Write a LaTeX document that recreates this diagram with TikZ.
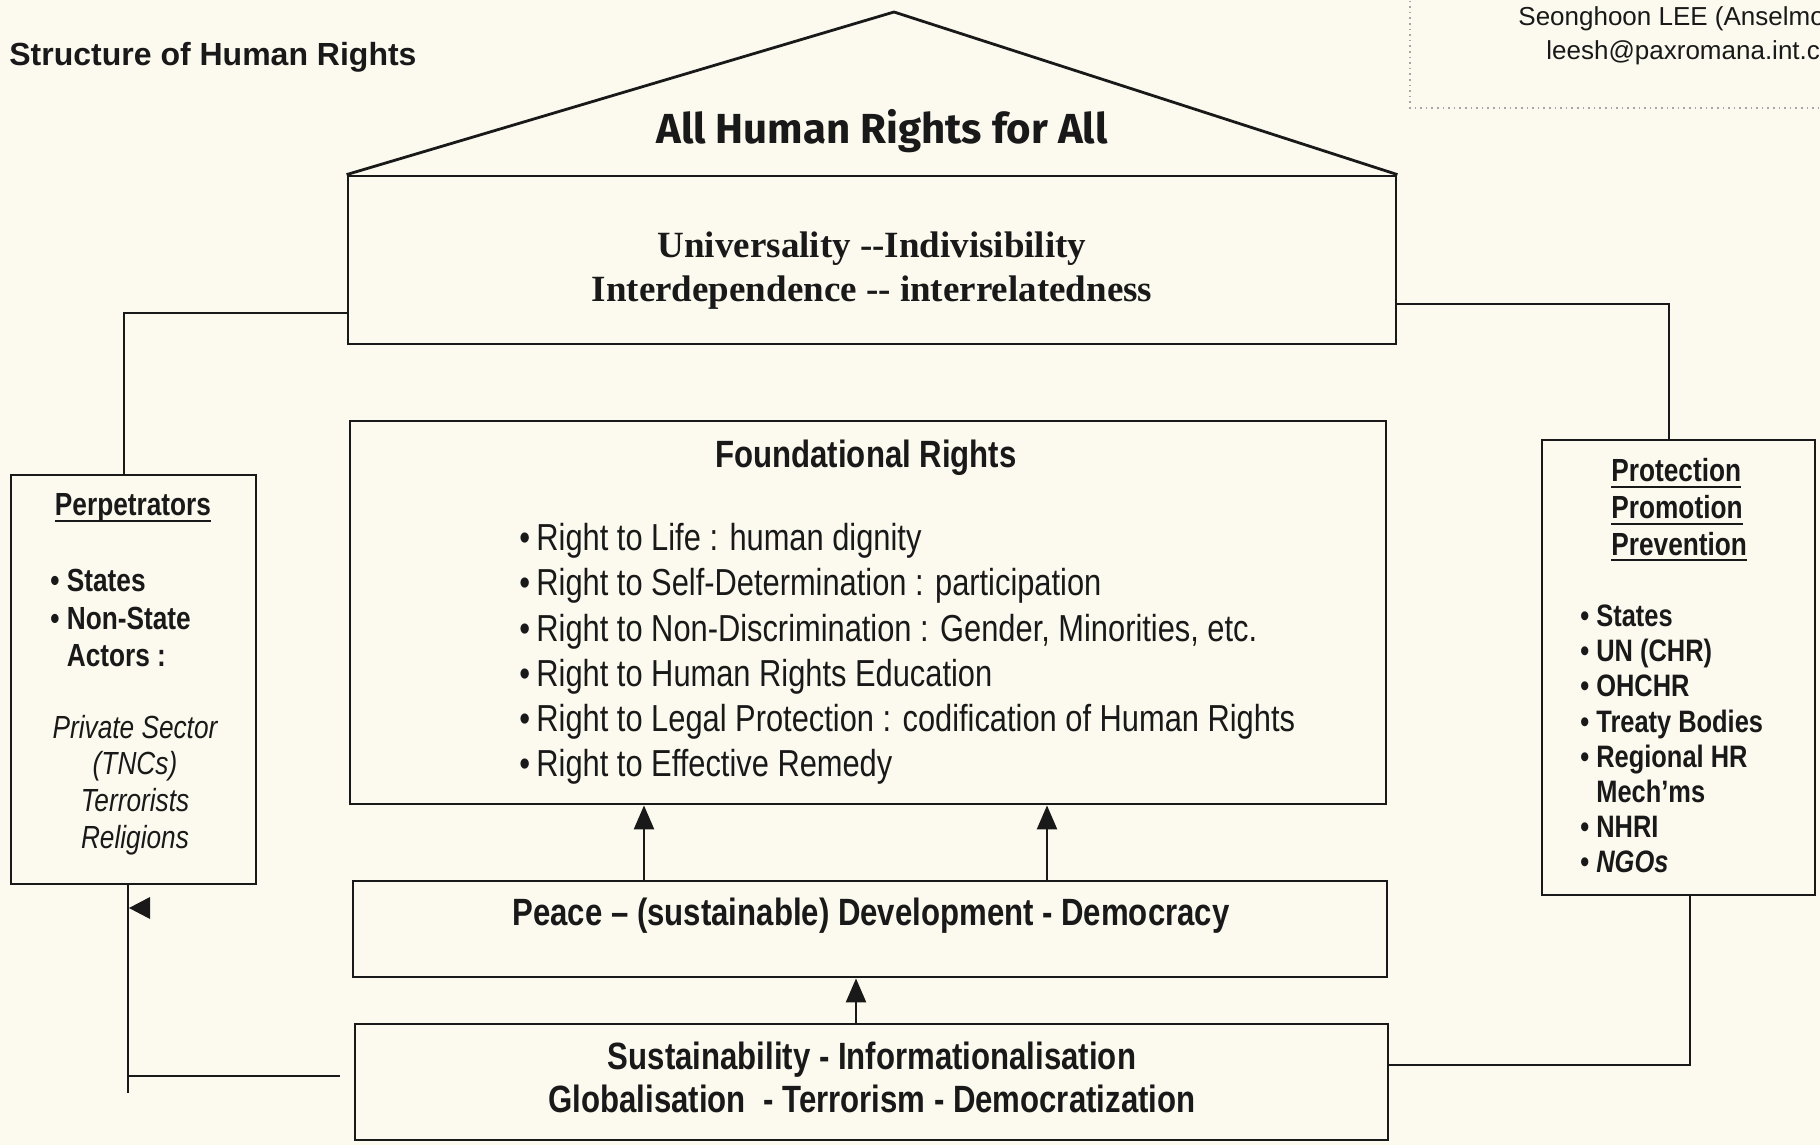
\documentclass[tikz,border=0pt]{standalone}
\usepackage{fontspec}
\setmainfont{Liberation Sans}
\newfontfamily\narrowsans[FakeStretch=0.82]{Liberation Sans}
\newfontfamily\romanbold{Liberation Serif}
\newfontfamily\roundsans{Fira Sans}
\usetikzlibrary{arrows.meta}

\definecolor{paper}{RGB}{252,250,239}
\definecolor{ink}{RGB}{25,25,25}

% underline drawn just under the baseline
\newcommand\ulinetext[1]{\setbox0\hbox{#1}\rlap{\rule[-3pt]{\wd0}{1pt}}\box0}

\begin{document}
\begin{tikzpicture}[x=0.5pt,y=-0.5pt,
  box/.style={draw=ink, line width=1.4pt, rectangle, inner sep=0pt},
  link/.style={draw=ink, line width=1.25pt},
  uparrow/.style={draw=ink, line width=1.25pt, -{Triangle[length=12pt,width=10pt]}},
  txt/.style={inner sep=0pt, text=ink},
  bodyfont/.style={font=\narrowsans\fontsize{18.8}{22.6}\selectfont},
  boldbody/.style={font=\narrowsans\bfseries\fontsize{19}{21.5}\selectfont},
  sidebold/.style={font=\narrowsans\bfseries\fontsize{16}{18.9}\selectfont},
]
\path[use as bounding box, fill=paper] (0,0) rectangle (1820,1145);
\clip (0,0) rectangle (1820,1145);

% heading and author note
\node[txt, anchor=west, font=\bfseries\fontsize{16}{18}\selectfont] (title) at (9,57) {Structure of Human Rights};
\draw[gray!70, dotted, line width=0.8pt] (1410,-5) -- (1410,108) -- (1830,108);
\node[txt, anchor=west, font=\fontsize{13}{15}\selectfont] (author) at (1518,19) {Seonghoon LEE (Anselmo};
\node[txt, anchor=west, font=\fontsize{13}{15}\selectfont] (mail) at (1546,53) {leesh@paxromana.int.c};

% boxes
\node[box, minimum width=524pt, minimum height=84pt] (top) at (872,260) {};
\node[box, minimum width=518pt, minimum height=191.5pt] (found) at (868,612.5) {};
\node[box, minimum width=517pt, minimum height=48pt] (peace) at (870,929) {};
\node[box, minimum width=516.5pt, minimum height=58pt] (base) at (871.5,1082) {};
\node[box, minimum width=122.5pt, minimum height=204.5pt] (perp) at (133.5,679.5) {};
\node[box, minimum width=136.5pt, minimum height=227.5pt] (prot) at (1678.5,667.5) {};

% roof
\coordinate (apex) at (894,12);
\draw[ink, line width=1.4pt] (top.north west) -- (apex) -- (top.north east);

% texts
\node[txt, font=\roundsans\bfseries\fontsize{21}{24}\selectfont] (roof) at (882,131) {All Human Rights for All};
\node[txt, align=center, font=\romanbold\bfseries\fontsize{18.5}{22}\selectfont] (principles) at (872,271)
  {Universality --Indivisibility\\Interdependence -- interrelatedness};
\node[txt, boldbody] (foundhead) at (866,458) {Foundational Rights};
\node[txt, bodyfont, anchor=west, align=left] (rights) at (519,654)
  {\textbullet\,Right to Life : human dignity\\
   \textbullet\,Right to Self-Determination : participation\\
   \textbullet\,Right to Non-Discrimination : Gender, Minorities, etc.\\
   \textbullet\,Right to Human Rights Education\\
   \textbullet\,Right to Legal Protection : codification of Human Rights\\
   \textbullet\,Right to Effective Remedy};
\node[txt, boldbody] (peacetext) at (871,916) {Peace – (sustainable) Development - Democracy};
\node[txt, boldbody, align=center] (trends) at (872,1077)
  {Sustainability - Informationalisation\\Globalisation\ \ - Terrorism - Democratization};

\node[txt, sidebold] (perphead) at (133,508) {\ulinetext{Perpetrators}};
\node[txt, sidebold, anchor=west, align=left] (perpitems) at (50,618)
  {\textbullet\ States\\\textbullet\ Non-State\\\phantom{\textbullet\ }Actors :};
\node[txt, align=center, font=\narrowsans\itshape\fontsize{16}{18.4}\selectfont] (nonstate) at (135,785)
  {Private Sector\\(TNCs)\\Terrorists\\Religions};

\node[txt, anchor=west, align=left, font=\narrowsans\bfseries\fontsize{16}{18.3}\selectfont] (prothead) at (1611,510)
  {\ulinetext{Protection}\\\ulinetext{Promotion}\\\ulinetext{Prevention}};
\node[txt, anchor=west, align=left, font=\narrowsans\bfseries\fontsize{15.5}{17.6}\selectfont] (protitems) at (1580,739)
  {\textbullet\ States\\\textbullet\ UN (CHR)\\\textbullet\ OHCHR\\\textbullet\ Treaty Bodies\\
   \textbullet\ Regional HR\\\phantom{\textbullet\ }Mech’ms\\\textbullet\ NHRI\\\textbullet\ \textit{NGOs}};

% connectors
\coordinate (tl) at (124,313);
\coordinate (tr) at (1669,304);
\coordinate (br) at (1690,1065);
\coordinate (bl) at (128,1076);
\coordinate (blend) at (340,1076);
\coordinate (bltail) at (128,1093);
\draw[link] (top.west |- tl) -- (tl) -- (perp.north -| tl);
\draw[link] (top.east |- tr) -- (tr) -- (prot.north -| tr);
\draw[link] (prot.south -| br) -- (br) -- (base.east |- br);
\draw[link] (perp.south -| bl) -- (bltail);
\draw[link] (bl) -- (blend);
\fill[ink] (129,908) -- (150,897) -- (150,919) -- cycle;

% upward arrows
\coordinate (a1) at (644,0);
\coordinate (a2) at (1047,0);
\coordinate (a3) at (856,0);
\draw[uparrow] (peace.north -| a1) -- (found.south -| a1);
\draw[uparrow] (peace.north -| a2) -- (found.south -| a2);
\draw[uparrow] (base.north -| a3) -- (peace.south -| a3);
\end{tikzpicture}
\end{document}
